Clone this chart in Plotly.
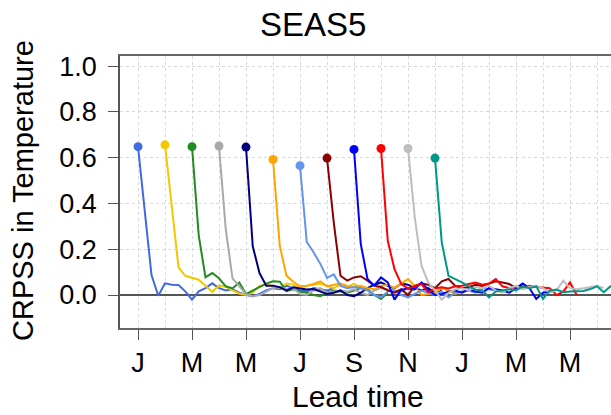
import plotly.graph_objects as go

# ---- data -------------------------------------------------------------
start_months = [1, 2, 3, 4, 5, 6, 7, 8, 9, 10, 11, 12]
colors = ["#4169E1", "#F2C800", "#228B22", "#A9A9A9", "#000080", "#FFA500",
          "#6495ED", "#8B0000", "#0000FF", "#FF0000", "#BEBEBE", "#009688"]
steps_per_month = 4

s1 = [0.648, 0.36, 0.087, -0.003, 0.051, 0.045, 0.044, 0.016, -0.020, 0.016, 0.030, 0.051, 0.030, 0.020, 0.025,
      0.010, 0.000, -0.005, 0.005, 0.020, 0.030, 0.025, 0.040, 0.030, 0.020, 0.015, 0.030, 0.025, 0.020, 0.030]
s2 = [0.656, 0.39, 0.121, 0.084, 0.077, 0.067, 0.041, 0.014, 0.041, 0.036, 0.020, 0.007, 0.000, 0.010, 0.040,
      0.045, 0.040, 0.030, 0.050, 0.045, 0.030, 0.040, 0.045, 0.050, 0.040, 0.030, 0.045, 0.035, 0.050, 0.030]
s3 = [0.648, 0.259, 0.077, 0.096, 0.073, 0.038, 0.029, 0.055, 0.004, 0.019, 0.035, 0.050, 0.060, 0.058, 0.017,
      0.025, 0.015, 0.010, 0.000, -0.005, 0.010, 0.020, 0.015, 0.010, 0.020, 0.030, 0.025, 0.000, -0.017, 0.010]
s4 = [0.651, 0.288, 0.073, 0.038, 0.004, -0.006, 0.000, 0.015, 0.030, 0.035, 0.025, 0.030, 0.004, 0.000, 0.020,
      0.030, 0.010, 0.015, 0.020, 0.015, 0.025, 0.010, 0.000, 0.020, 0.030, 0.025, 0.020, 0.015, 0.030, 0.020]
s5 = [0.646, 0.213, 0.096, 0.041, 0.041, 0.034, 0.019, 0.034, 0.029, 0.024, 0.026, 0.015, 0.005, 0.010, 0.020,
      0.000, -0.005, 0.010, 0.030, 0.045, 0.055, 0.040, 0.030, 0.050, 0.045, 0.030, 0.020, 0.030, 0.010, 0.025]
s6 = [0.592, 0.215, 0.084, 0.058, 0.038, 0.041, 0.048, 0.060, 0.038, 0.045, 0.050, 0.040, 0.035, 0.040, 0.030,
      0.025, 0.040, 0.045, 0.030, 0.050, 0.070, 0.040, 0.000, 0.005, 0.010, 0.030, 0.020, 0.005, 0.015, 0.020]
s7 = [0.565, 0.232, 0.187, 0.137, 0.075, 0.090, 0.040, 0.030, 0.035, 0.030, 0.020, 0.000, -0.010, 0.015, 0.020,
      0.000, -0.010, 0.005, 0.020, 0.010, 0.000, 0.015, -0.010, 0.010, 0.015, 0.020, 0.010, 0.030, 0.025, 0.020]
s8 = [0.598, 0.317, 0.084, 0.063, 0.077, 0.082, 0.063, 0.041, 0.035, 0.020, 0.010, 0.025, 0.000, 0.040, 0.050,
      0.045, 0.030, 0.060, 0.070, 0.040, 0.030, 0.035, 0.045, 0.040, 0.050, 0.060, 0.055, 0.048, 0.030, 0.040]
s9 = [0.636, 0.223, 0.070, 0.041, 0.077, 0.055, -0.020, 0.023, 0.029, 0.025, 0.055, 0.023, 0.000, 0.005, 0.015,
      0.020, 0.010, 0.025, 0.015, 0.010, 0.030, 0.025, 0.020, 0.010, 0.030, 0.050, 0.030, -0.017, 0.010, 0.015]
s10 = [0.640, 0.237, 0.113, 0.048, 0.029, 0.038, 0.048, 0.012, 0.029, 0.034, 0.029, 0.038, 0.041, 0.048, 0.055,
       0.045, 0.050, 0.070, 0.038, 0.030, 0.035, 0.030, 0.040, 0.035, 0.034, 0.030, 0.000, 0.015, 0.055, 0.000]
s11 = [0.640, 0.340, 0.128, 0.055, 0.019, -0.020, 0.010, 0.025, 0.030, 0.020, 0.035, 0.030, 0.040, 0.020, 0.010,
       0.030, 0.040, 0.025, 0.035, 0.040, 0.030, 0.010, 0.020, 0.063, 0.030, 0.025, 0.030, 0.035, 0.040, 0.030]
s12 = [0.598, 0.230, 0.084, 0.070, 0.055, 0.038, 0.023, 0.020, -0.010, 0.015, 0.019, 0.025, 0.020, 0.038, 0.030,
       0.038, -0.017, 0.019, 0.024, 0.012, 0.015, 0.015, 0.018, 0.026, 0.038, 0.012, 0.038, 0.040, 0.030, 0.035]
series = [s1, s2, s3, s4, s5, s6, s7, s8, s9, s10, s11, s12]

x_tickvals = [1, 3, 5, 7, 9, 11, 13, 15, 17]
x_ticktext = ["J", "M", "M", "J", "S", "N", "J", "M", "M"]
y_tickvals = [0.0, 0.2, 0.4, 0.6, 0.8, 1.0]
y_ticktext = ["0.0", "0.2", "0.4", "0.6", "0.8", "1.0"]

# ---- figure -----------------------------------------------------------
FONT = "Liberation Sans, Arial, sans-serif"
fig = go.Figure()
for m, vals, c in zip(start_months, series, colors):
    xs = [m + k / steps_per_month for k in range(len(vals))]
    fig.add_trace(go.Scatter(x=xs, y=vals, mode="lines", line=dict(color=c, width=2),
                             hoverinfo="skip", showlegend=False))
    fig.add_trace(go.Scatter(x=[xs[0]], y=[vals[0]], mode="markers",
                             marker=dict(color=c, size=9), showlegend=False))

W, H = 611, 415
L, R, T, B = 120, 611, 56, 328
fig.update_layout(
    width=W, height=H,
    margin=dict(l=L, r=W - R, t=T, b=H - B, pad=0, autoexpand=False),
    paper_bgcolor="white", plot_bgcolor="white",
    font=dict(family=FONT, color="black"),
    showlegend=False,
)
fig.update_xaxes(
    range=[1 - 18 / 27, 1 + (R - 138) / 27],
    tickmode="array", tickvals=x_tickvals, ticktext=x_ticktext,
    tickfont=dict(size=27), ticks="outside", ticklen=10, tickcolor="#555", tickwidth=1,
    showgrid=True, gridcolor="#D8D8D8", griddash="dot", gridwidth=1,
    minor=dict(tickmode="linear", tick0=0, dtick=1, showgrid=True, gridcolor="#D8D8D8",
               griddash="dot", gridwidth=1, ticks=""),
    showline=True, linecolor="#666", linewidth=1.5, mirror=True,
    zeroline=False, automargin=False,
)
fig.update_yaxes(
    range=[-0.144, 1.044],
    tickmode="array", tickvals=y_tickvals, ticktext=y_ticktext,
    tickfont=dict(size=27), ticks="outside", ticklen=10, tickcolor="#555", tickwidth=1,
    ticklabelstandoff=6,
    showgrid=True, gridcolor="#D8D8D8", griddash="dot", gridwidth=1,
    showline=True, linecolor="#555", linewidth=1.5,
    zeroline=True, zerolinecolor="#555", zerolinewidth=1.5, automargin=False,
)
# title and axis titles
fig.add_annotation(text="SEAS5", xref="paper", yref="paper",
                   x=(313 - L) / (R - L), y=(B - 25) / (B - T), yanchor="middle",
                   xanchor="center", showarrow=False, font=dict(size=33, family=FONT))
fig.add_annotation(text="Lead time", xref="paper", yref="paper",
                   x=(358 - L) / (R - L), y=-(396 - B) / (B - T), yanchor="middle",
                   xanchor="center", showarrow=False, borderpad=0, font=dict(size=30, family=FONT))
fig.add_annotation(text="CRPSS in Temperature", xref="paper", yref="paper",
                   x=-(L - 23) / (R - L), y=(B - 191) / (B - T), xanchor="center", yanchor="middle",
                   textangle=-90, showarrow=False, font=dict(size=29, family=FONT))

fig.write_html("out.html", config={"displayModeBar": False},
               post_script="document.body.style.margin='0';document.body.style.padding='0';")
